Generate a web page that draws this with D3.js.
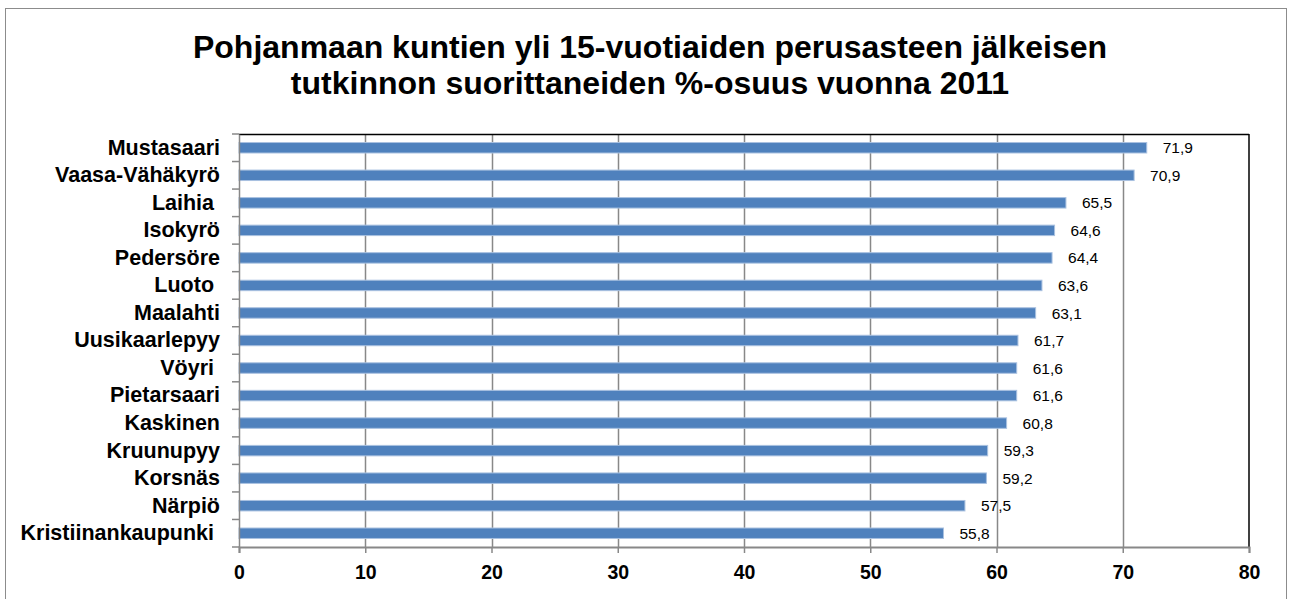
<!DOCTYPE html>
<html><head><meta charset="utf-8">
<script src="https://cdn.jsdelivr.net/npm/d3@7"></script>
<style>
body{margin:0;background:#fff;}
svg text{font-family:"Liberation Sans",Arial,sans-serif;white-space:pre;}
</style></head>
<body><svg id="c" width="1292" height="599"></svg>
<script>
const titleLines = ["Pohjanmaan kuntien yli 15-vuotiaiden perusasteen jälkeisen",
                    "tutkinnon suorittaneiden %-osuus vuonna 2011"];
const categories = ["Mustasaari","Vaasa-Vähäkyrö","Laihia ","Isokyrö","Pedersöre","Luoto ","Maalahti",
  "Uusikaarlepyy","Vöyri ","Pietarsaari","Kaskinen","Kruunupyy","Korsnäs","Närpiö","Kristiinankaupunki "];
const values = [71.9,70.9,65.5,64.6,64.4,63.6,63.1,61.7,61.6,61.6,60.8,59.3,59.2,57.5,55.8];
const xTicks = [0,10,20,30,40,50,60,70,80];

const svg = d3.select("#c");
svg.append("rect").attr("x",5.5).attr("y",8.5).attr("width",1281).attr("height",600)
  .attr("fill","#fff").attr("stroke","#8c8c8c").attr("stroke-width",1);

const L=239, R=1249, T=134, B=547;
const x = d3.scaleLinear().domain([0,80]).range([L,R]);
const y = d3.scaleBand().domain(categories).range([T,B]).paddingInner(0.62).paddingOuter(0.31);
const yb = d3.scaleBand().domain(categories).range([T,B]);

// title
svg.selectAll("text.title").data(titleLines).enter().append("text")
  .attr("class","title").attr("x",650).attr("y",(d,i)=>58+i*36)
  .attr("text-anchor","middle").attr("font-size",32).attr("font-weight","bold").text(d=>d);

// gridlines
svg.selectAll("line.grid").data(xTicks.slice(1,-1)).enter().append("line")
  .attr("x1",d=>Math.round(x(d))+0.5).attr("x2",d=>Math.round(x(d))+0.5)
  .attr("y1",T).attr("y2",B).attr("stroke","#888").attr("stroke-width",1.5);

// plot frame top/right black
svg.append("line").attr("x1",L).attr("x2",R).attr("y1",T+0.5).attr("y2",T+0.5).attr("stroke","#000").attr("stroke-width",1.5);
svg.append("line").attr("x1",R).attr("x2",R).attr("y1",T).attr("y2",B).attr("stroke","#000").attr("stroke-width",1.5);

// bars
svg.selectAll("rect.bar").data(values).enter().append("rect")
  .attr("x",x(0)).attr("y",(d,i)=>y(categories[i]))
  .attr("width",d=>x(d)-x(0)).attr("height",y.bandwidth())
  .attr("fill","#4F81BD").attr("stroke","#a9c1e0").attr("stroke-width",1);

// value labels
svg.selectAll("text.val").data(values).enter().append("text")
  .attr("x",d=>x(d)+16).attr("y",(d,i)=>y(categories[i])+y.bandwidth()/2)
  .attr("dy","0.36em").attr("font-size",15.5).attr("fill","#000")
  .text(d=>d3.format(".1f")(d).replace(".",","));

// y axis
const yAxis = d3.axisLeft(yb).tickSize(0).tickFormat(d=>d);
const gy = svg.append("g").attr("transform",`translate(${L},0)`).call(yAxis);
gy.select(".domain").attr("stroke","#888").attr("stroke-width",1.5);
gy.selectAll(".tick text").attr("x",-19).attr("font-size",21.5).attr("font-weight","bold")
  .attr("fill","#000").attr("font-family","Liberation Sans, Arial, sans-serif");
// category boundary ticks
const bounds = categories.map(c=>yb(c)).concat([B]);
svg.selectAll("line.ytick").data(bounds).enter().append("line")
  .attr("x1",L-7).attr("x2",L).attr("y1",d=>d).attr("y2",d=>d).attr("stroke","#888").attr("stroke-width",1.5);

// x axis
const xAxis = d3.axisBottom(x).tickValues(xTicks).tickSize(6).tickPadding(12);
const gx = svg.append("g").attr("transform",`translate(0,${B})`).call(xAxis);
gx.select(".domain").attr("stroke","#888").attr("stroke-width",2);
gx.selectAll(".tick line").attr("stroke","#888").attr("stroke-width",1.5);
gx.selectAll(".tick text").attr("font-size",19.5).attr("font-weight","bold").attr("fill","#000")
  .attr("font-family","Liberation Sans, Arial, sans-serif");
</script></body></html>
